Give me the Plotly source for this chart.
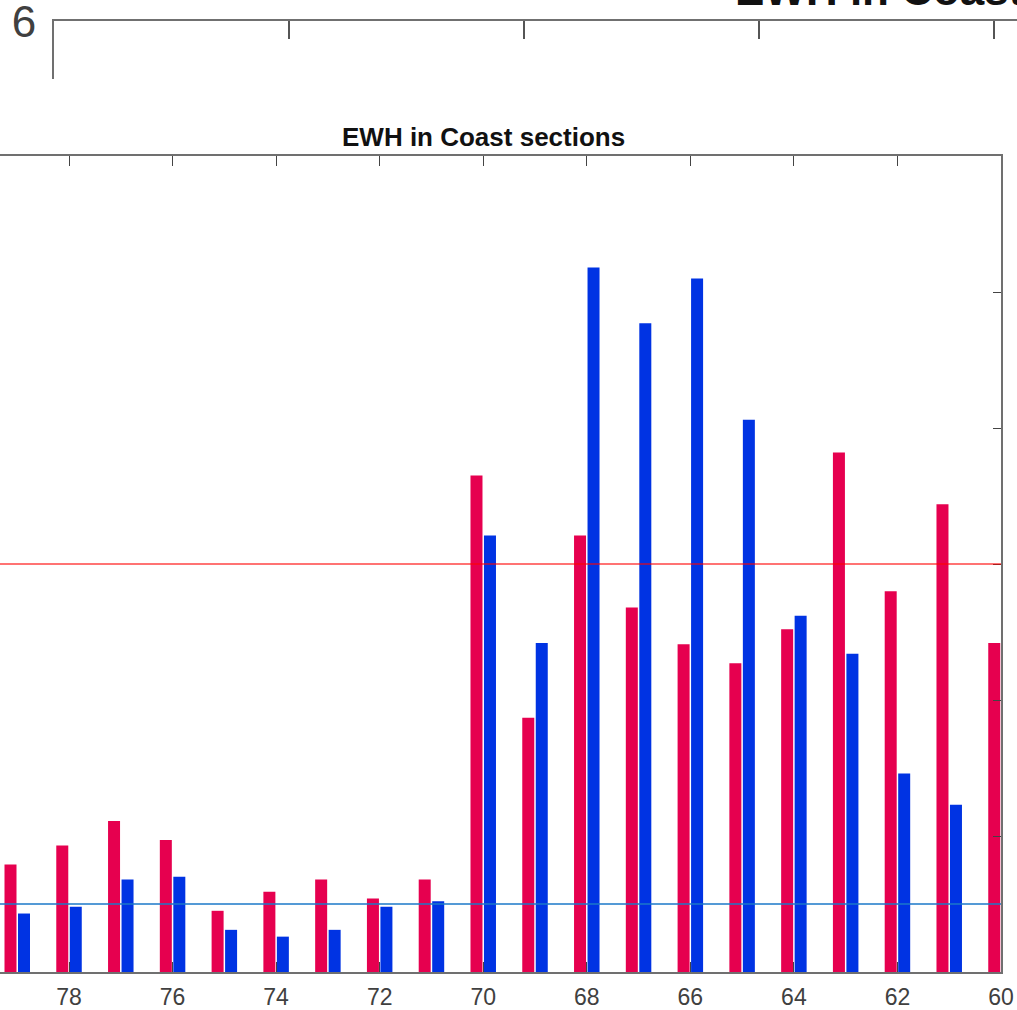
import plotly.graph_objects as go

# Coast sections (reversed axis) and the two EWH series per section
sections = list(range(79, 59, -1))
ewh_red = [0.79, 0.93, 1.11, 0.97, 0.45, 0.59, 0.68, 0.54, 0.68, 3.65,
           1.87, 3.21, 2.68, 2.41, 2.27, 2.52, 3.82, 2.80, 3.44, 2.42]
ewh_blue = [0.43, 0.48, 0.68, 0.70, 0.31, 0.26, 0.31, 0.48, 0.52, 3.21,
            2.42, 5.18, 4.77, 5.10, 4.06, 2.62, 2.34, 1.46, 1.23, None]

# Reference levels drawn across the axes
red_level = 3.0
blue_level = 0.5

x_ticks = list(range(60, 79, 2))
y_ticks = [0, 1, 2, 3, 4, 5, 6]
outer_y_tick = [6]
title_text = "EWH in Coast sections"

W, H = 1017, 1010
FONT = "Liberation Sans, Arial, Helvetica, sans-serif"
AXIS_COLOR = "#707070"


def fx(p):
    return p / W


def fy(p):
    return 1 - p / H


fig = go.Figure()
fig.add_trace(go.Bar(x=sections, y=ewh_blue, marker_color="#0033E3",
                     marker_line_width=0, showlegend=False))
fig.add_trace(go.Bar(x=sections, y=ewh_red, marker_color="#E6004F",
                     marker_line_width=0, showlegend=False))
# empty trace so the outer axes pair is laid out
fig.add_trace(go.Scatter(x=[], y=[], xaxis="x2", yaxis="y2", showlegend=False))

fig.update_layout(
    width=W, height=H, autosize=False,
    margin=dict(l=0, r=0, t=0, b=0, pad=0, autoexpand=False),
    paper_bgcolor="white", plot_bgcolor="white",
    barmode="group", bargap=0.479, bargroupgap=0.11,
    showlegend=False,
    xaxis=dict(
        domain=[0, fx(1001)], anchor="y", automargin=False,
        range=[79.333, 60], tickvals=x_ticks,
        ticks="inside", ticklen=10, tickwidth=1.2, tickcolor="#444",
        showline=True, linecolor=AXIS_COLOR, linewidth=1.5, mirror="ticks",
        showgrid=False, zeroline=False,
        tickfont=dict(family=FONT, size=23, color="#404040"),
        ticklabelstandoff=4, ticklabeloverflow="allow",
    ),
    yaxis=dict(
        domain=[fy(972), fy(156)], anchor="x", automargin=False,
        range=[0, 6], tickvals=y_ticks, side="right",
        ticks="inside", ticklen=8, tickwidth=1.2, tickcolor="#444",
        showticklabels=False,
        showline=True, linecolor=AXIS_COLOR, linewidth=1.5, mirror=False,
        showgrid=False, zeroline=False,
    ),
    xaxis2=dict(
        domain=[fx(54), 1], anchor="y2", side="top", automargin=False,
        range=[0, 963 / 235], tickvals=[0, 1, 2, 3, 4],
        ticks="inside", ticklen=18, tickwidth=1.5, tickcolor="#555",
        showticklabels=False,
        showline=True, linecolor=AXIS_COLOR, linewidth=2,
        showgrid=False, zeroline=False, fixedrange=True,
    ),
    yaxis2=dict(
        domain=[fy(79), fy(21)], anchor="x2", automargin=False,
        range=[6 - 58 / 235, 6.0005], tickvals=outer_y_tick, ticktext=["6"],
        ticks="inside", ticklen=18, tickwidth=1.5, tickcolor="#555",
        showticklabels=True, ticklabeloverflow="allow",
        showline=True, linecolor=AXIS_COLOR, linewidth=2,
        showgrid=False, zeroline=False, fixedrange=True,
        tickfont=dict(family=FONT, size=44, color="#404040"),
        ticklabelstandoff=7,
    ),
    shapes=[
        dict(type="line", xref="x domain", yref="y", x0=0, x1=1,
             y0=red_level, y1=red_level,
             line=dict(color="rgba(255,0,0,0.55)", width=2), layer="above"),
        dict(type="line", xref="x domain", yref="y", x0=0, x1=1,
             y0=blue_level, y1=blue_level,
             line=dict(color="#1B78C8", width=1.5), layer="above"),
    ],
    annotations=[
        dict(text="<b>" + title_text + "</b>", xref="paper", yref="paper",
             x=fx(483), y=fy(137), xanchor="center", yanchor="middle",
             showarrow=False,
             font=dict(family=FONT, size=26, color="#111")),
        dict(text="<b>" + title_text + "</b>", xref="paper", yref="paper",
             x=fx(733), y=fy(16), xanchor="left", yanchor="bottom",
             showarrow=False,
             font=dict(family=FONT, size=44, color="#111")),
    ],
)

fig.write_html("out.html")
